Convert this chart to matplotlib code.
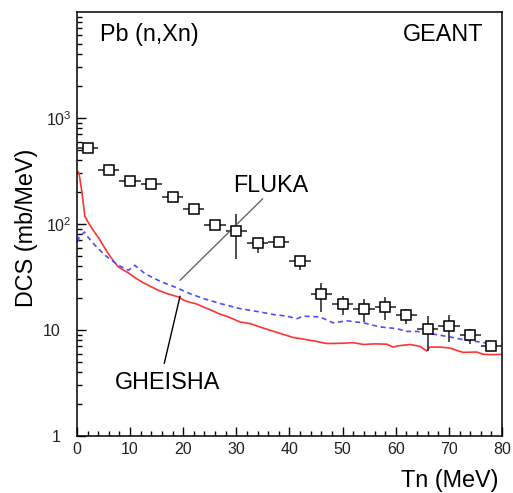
import matplotlib
matplotlib.use('Agg')
import matplotlib.pyplot as plt
from matplotlib.ticker import FixedLocator, MultipleLocator, LogLocator, NullFormatter
import numpy as np

plt.rcParams['font.family'] = ['Liberation Sans', 'DejaVu Sans']
plt.rcParams['mathtext.default'] = 'regular'

# measured data points (4 MeV bins)
tn = [2, 6, 10, 14, 18, 22, 26, 30, 34, 38, 42, 46, 50, 54, 58, 62, 66, 70, 74, 78]
dcs = [525, 320, 256, 238, 179, 138, 98, 86, 66, 68, 45, 21.7, 17.5, 15.7, 16.5, 13.8, 10.2, 10.9, 8.95, 7.05]
dcs_lo = [505, 308, 246, 229, 172, 132, 93, 47, 53, 65, 37.1, 14.8, 13.8, 11.9, 12.4, 11.5, 6.35, 7.7, 7.45, 6.7]
dcs_hi = [545, 332, 266, 247, 186, 144, 103, 123, 72.7, 71, 49.5, 27.8, 20.9, 19.4, 20.5, 15.9, 13.6, 14.0, 10.3, 7.4]

# GHEISHA (red, solid)
gh_x = [0.2, 0.4, 0.9, 1.5, 2.1, 3.0, 4.0, 5.0, 5.9, 7.0, 7.8, 9.7, 11.0, 12.2, 13.7, 15.3, 17.0, 19.1,
        20.2, 21.0, 22.5, 23.8, 25.5, 26.9, 28.5, 30.7, 32.6, 34.4, 36.3, 38.2, 40.7, 42.0, 44.5, 47.0,
        48.0, 50.0, 52.0, 53.9, 56.0, 58.3, 59.5, 60.5, 62.7, 64.0, 64.6, 65.8, 66.4, 68.5, 70.2, 72.0,
        72.7, 75.2, 76.5, 78.0, 80.0]
gh_y = [310, 300, 205, 118, 104, 88, 75, 62, 52.5, 44, 39.3, 34.5, 31, 28.4, 26, 23.7, 22, 20.5,
        19, 18.4, 17.6, 16.5, 15.2, 14.1, 13.3, 11.9, 11.5, 10.7, 9.96, 9.3, 8.5, 8.3, 7.9, 7.46,
        7.46, 7.5, 7.6, 7.3, 7.4, 7.35, 6.9, 7.1, 7.3, 7.1, 7.0, 6.35, 6.9, 6.9, 6.75, 6.3,
        6.15, 6.2, 5.9, 5.85, 5.9]

# FLUKA (blue, dashed)
fl_x = [0.2, 0.4, 1.4, 2.1, 3.4, 5.3, 7.8, 9.7, 10.9, 12.8, 15.9, 18.4, 21.3, 23.8, 26.9, 30.7, 34.4,
        37.0, 39.5, 41.4, 42.6, 45.7, 48.2, 50.8, 53.9, 57.0, 60.2, 62.1, 64.0, 66.4, 70.2, 72.7,
        75.9, 80.0]
fl_y = [68, 75, 84, 75, 63, 50.6, 40.8, 36.6, 40.8, 34, 28.4, 25.5, 22, 19.8, 17.8, 15.9, 14.8,
        14.0, 13.5, 12.8, 13.5, 13.3, 11.7, 12.2, 11.7, 10.7, 10.3, 9.7, 9.7, 9.27, 8.6, 8.1,
        7.7, 7.1]

fig = plt.figure(figsize=(5.13, 4.93), dpi=100)
ax = fig.add_axes([0.150, 0.1156, 0.8286, 0.8601])

ax.plot(gh_x, gh_y, color='#ff3333', lw=1.2)
ax.plot(fl_x, fl_y, color='#4d4dff', lw=1.2, ls=(0, (3, 2.2)))

dcs_a = np.array(dcs)
yerr = [dcs_a - np.array(dcs_lo), np.array(dcs_hi) - dcs_a]
ax.errorbar(tn, dcs, xerr=2, yerr=yerr, fmt='s', ms=7, mfc='white', mec='black', mew=1.1,
            ecolor='#303030', elinewidth=1.2, capsize=0, zorder=3)

ax.set_yscale('log')
ax.set_xlim(0, 80)
ax.set_ylim(1, 1e4)

ax.xaxis.set_major_locator(MultipleLocator(10))
ax.xaxis.set_minor_locator(MultipleLocator(2))
ax.yaxis.set_major_locator(FixedLocator([1, 10, 100, 1000]))
ax.yaxis.set_minor_locator(LogLocator(base=10, subs=np.arange(2, 10)))
ax.yaxis.set_minor_formatter(NullFormatter())
ax.set_yticklabels(['1', '10', r'$10^{2}$', r'$10^{3}$'])

ax.tick_params(which='both', direction='in', top=False, right=False, labelsize=11.5,
               labelcolor='#222222')
ax.tick_params(which='major', length=6.5, width=1)
ax.tick_params(which='minor', length=3.5, width=1)
ax.tick_params(axis='x', pad=4.5)
yt = ax.yaxis.get_major_ticks()
for tk, p in zip(yt, [12, 11.5, 4, 4]):
    tk.set_pad(p)
for s in ax.spines.values():
    s.set_linewidth(1.1)

ax.text(0.054, 0.948, 'Pb (n,Xn)', transform=ax.transAxes, fontsize=16.8, ha='left', va='center')
ax.text(0.955, 0.948, 'GEANT', transform=ax.transAxes, fontsize=16.8, ha='right', va='center')

# labels with pointer lines
ax.text(36.5, 231, 'FLUKA', fontsize=16.8, ha='center', va='center')
ax.annotate('', xy=(19.4, 29.4), xytext=(34.96, 173),
            arrowprops=dict(arrowstyle='-', color='#666666', lw=1, shrinkA=0, shrinkB=0))
ax.text(17.0, 3.22, 'GHEISHA', fontsize=16.8, ha='center', va='center')
ax.annotate('', xy=(19.4, 20.8), xytext=(16.43, 4.84),
            arrowprops=dict(arrowstyle='-', color='black', lw=1, shrinkA=0, shrinkB=0))

fig.text(0.9727, 0.026, 'Tn (MeV)', fontsize=16.8, ha='right', va='center')
fig.text(0.0507, 0.5385, 'DCS (mb/MeV)', fontsize=16.8, ha='center', va='center', rotation=90)

fig.savefig('out.png', dpi=100)
